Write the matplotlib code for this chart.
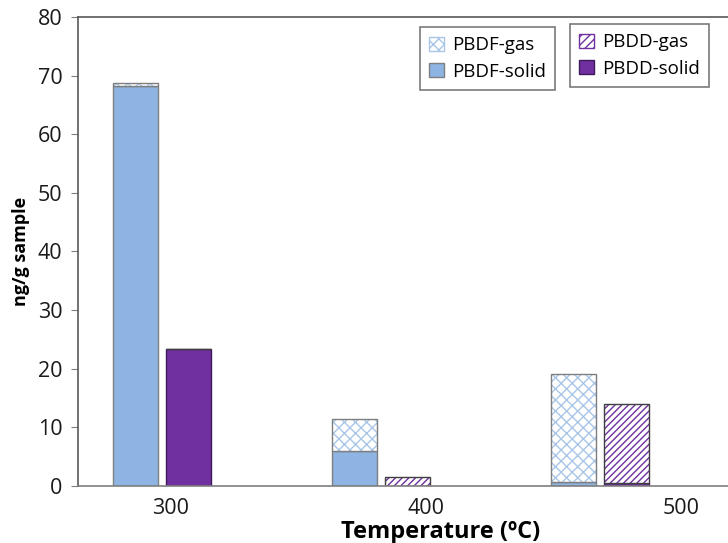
import matplotlib
matplotlib.use("Agg")
import matplotlib.pyplot as plt
import numpy as np
from matplotlib.patches import Patch

plt.rcParams['font.family'] = ['Open Sans', 'DejaVu Sans']
plt.rcParams['hatch.linewidth'] = 1.0

temps = [300, 400, 500]
pbdf_solid = [68.2, 6.0, 0.6]
pbdf_gas = [0.5, 5.4, 18.5]
pbdd_solid = [23.3, 0.0, 0.5]
pbdd_gas = [0.0, 1.6, 13.5]

blue = '#8DB4E2'
blue_hatch = '#A9C6E8'
purple = '#7030A0'
edge = '#7F7F7F'

fig = plt.figure(figsize=(7.28, 5.43), dpi=100)
ax = fig.add_axes([0.107, 0.105, 0.912, 0.8637])

x = np.arange(len(temps))
w = 0.205
off = 0.121

# PBDF
ax.bar(x - off, pbdf_solid, w, color=blue, edgecolor=edge, linewidth=1)
ax.bar(x - off, pbdf_gas, w, bottom=pbdf_solid, color='white',
       edgecolor=blue_hatch, hatch='xxx', linewidth=0)
ax.bar(x - off, pbdf_gas, w, bottom=pbdf_solid, fill=False,
       edgecolor=edge, linewidth=1)
# PBDD
ax.bar(x + off, pbdd_solid, w, color=purple, edgecolor='#3F1A5A', linewidth=1)
ax.bar(x + off, pbdd_gas, w, bottom=pbdd_solid, color='white',
       edgecolor=purple, hatch='/////', linewidth=0)
ax.bar(x + off, pbdd_gas, w, bottom=pbdd_solid, fill=False,
       edgecolor='#404040', linewidth=1)

ax.set_xlim(-0.386, 2.646)
ax.set_ylim(0, 80)
ax.set_yticks(range(0, 81, 10))
ax.set_xticks([])
ax.tick_params(axis='y', labelsize=15.5, length=5, color=edge, pad=6,
               labelcolor='#1a1a1a')
for s in ['left', 'top']:
    ax.spines[s].set_color('#595959')
    ax.spines[s].set_linewidth(1.2)
ax.spines['bottom'].set_color(edge)
ax.spines['bottom'].set_linewidth(1.2)
ax.spines['right'].set_visible(False)
ax.set_ylabel('ng/g sample', fontsize=13, fontweight='bold', labelpad=6)

# temperature axis
ax2 = ax.twiny()
ax2.set_xlim(263.5, 523.9)
ax2.xaxis.set_ticks_position('bottom')
ax2.xaxis.set_label_position('bottom')
ax2.set_xticks(temps)
ax2.tick_params(axis='x', length=0, labelsize=15.5, pad=9, labelcolor='#1a1a1a')
for s in ax2.spines.values():
    s.set_visible(False)
ax2.set_xlabel('Temperature (ºC)', fontsize=17, fontweight='bold')
ax2.xaxis.set_label_coords(0.547, -0.072)

h1 = [Patch(facecolor='white', edgecolor=blue_hatch, hatch='xxx', label='PBDF-gas'),
      Patch(facecolor=blue, edgecolor=edge, label='PBDF-solid')]
h2 = [Patch(facecolor='white', edgecolor=purple, hatch='////', label='PBDD-gas'),
      Patch(facecolor=purple, edgecolor='#3F1A5A', label='PBDD-solid')]
kw = dict(fontsize=13.5, fancybox=False, handlelength=0.8, handleheight=0.8,
          handletextpad=0.4, borderaxespad=0, borderpad=0.5, labelspacing=0.45)
leg1 = ax.legend(handles=h1, loc='upper left', bbox_to_anchor=(0.515, 0.979), **kw)
leg1.get_frame().set_edgecolor('#595959')
leg1.get_frame().set_linewidth(1.2)
ax.add_artist(leg1)
leg2 = ax.legend(handles=h2, loc='upper left', bbox_to_anchor=(0.741, 0.985), **kw)
leg2.get_frame().set_edgecolor('#595959')
leg2.get_frame().set_linewidth(1.2)

fig.savefig('out.png', dpi=100)
